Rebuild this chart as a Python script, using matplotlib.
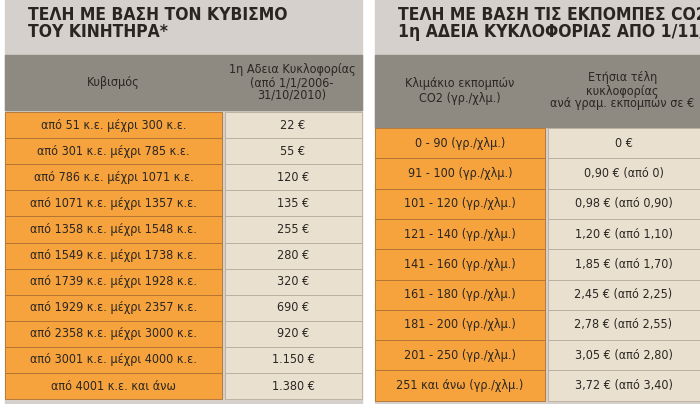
import matplotlib
matplotlib.use("Agg")
import matplotlib.pyplot as plt
from matplotlib.patches import Rectangle

plt.rcParams['font.family'] = ['DejaVu Sans']
plt.rcParams['font.stretch'] = 'condensed'

left_title = "ΤΕΛΗ ΜΕ ΒΑΣΗ ΤΟΝ ΚΥΒΙΣΜΟ\nΤΟΥ ΚΙΝΗΤΗΡΑ*"
left_headers = ["Κυβισμός", "1η Αδεια Κυκλοφορίας\n(από 1/1/2006-\n31/10/2010)"]
left_ranges = ["από 51 κ.ε. μέχρι 300 κ.ε.", "από 301 κ.ε. μέχρι 785 κ.ε.",
               "από 786 κ.ε. μέχρι 1071 κ.ε.", "από 1071 κ.ε. μέχρι 1357 κ.ε.",
               "από 1358 κ.ε. μέχρι 1548 κ.ε.", "από 1549 κ.ε. μέχρι 1738 κ.ε.",
               "από 1739 κ.ε. μέχρι 1928 κ.ε.", "από 1929 κ.ε. μέχρι 2357 κ.ε.",
               "από 2358 κ.ε. μέχρι 3000 κ.ε.", "από 3001 κ.ε. μέχρι 4000 κ.ε.",
               "από 4001 κ.ε. και άνω"]
left_fees = ["22 €", "55 €", "120 €", "135 €", "255 €", "280 €", "320 €",
             "690 €", "920 €", "1.150 €", "1.380 €"]

right_title = "ΤΕΛΗ ΜΕ ΒΑΣΗ ΤΙΣ ΕΚΠΟΜΠΕΣ CO2 -\n1η ΑΔΕΙΑ ΚΥΚΛΟΦΟΡΙΑΣ ΑΠΟ 1/11/2010"
right_headers = ["Κλιμάκιο εκπομπών\nCO2 (γρ./χλμ.)",
                 "Ετήσια τέλη\nκυκλοφορίας\nανά γραμ. εκπομπών σε €"]
right_ranges = ["0 - 90 (γρ./χλμ.)", "91 - 100 (γρ./χλμ.)", "101 - 120 (γρ./χλμ.)",
                "121 - 140 (γρ./χλμ.)", "141 - 160 (γρ./χλμ.)", "161 - 180 (γρ./χλμ.)",
                "181 - 200 (γρ./χλμ.)", "201 - 250 (γρ./χλμ.)", "251 και άνω (γρ./χλμ.)"]
right_fees = ["0 €", "0,90 € (από 0)", "0,98 € (από 0,90)", "1,20 € (από 1,10)",
              "1,85 € (από 1,70)", "2,45 € (από 2,25)", "2,78 € (από 2,55)",
              "3,05 € (από 2,80)", "3,72 € (από 3,40)"]

BG = "#d5d0cb"; HDR = "#8e8981"; OR = "#f6a23d"; BE = "#e9e0d0"; TXT = "#2a2622"

fig = plt.figure(figsize=(7, 4.04), dpi=100)
fig.patch.set_facecolor("white")
ax = fig.add_axes([0, 0, 1, 1])
ax.set_xlim(0, 700); ax.set_ylim(404, 0); ax.axis("off")

def table(x0, x1, xs, title, headers, ranges, fees, hdr_y, hdr_h, row_y0, row_h):
    ax.add_patch(Rectangle((x0, 0), x1 - x0, 404, color=BG, zorder=0))
    ax.text(x0 + 23, 6, title, fontsize=12.5, fontweight="bold", color="#2b2520",
            va="top", ha="left", linespacing=0.95)
    ax.add_patch(Rectangle((x0, hdr_y), x1 - x0, hdr_h, color=HDR, zorder=1))
    ax.text((x0 + xs) / 2, hdr_y + hdr_h / 2, headers[0], fontsize=9, color=TXT,
            ha="center", va="center", zorder=2)
    ax.text((xs + x1) / 2, hdr_y + hdr_h / 2, headers[1], fontsize=9, color=TXT,
            ha="center", va="center", zorder=2, linespacing=1.0)
    for i, (r, f) in enumerate(zip(ranges, fees)):
        y = row_y0 + i * row_h
        ax.add_patch(Rectangle((x0, y), xs - x0, row_h, facecolor=OR,
                               edgecolor="#b07030", lw=0.6, zorder=1))
        ax.add_patch(Rectangle((xs + 3, y), x1 - xs - 3, row_h, facecolor=BE,
                               edgecolor="#b8ad9c", lw=0.6, zorder=1))
        ax.text((x0 + xs) / 2, y + row_h / 2, r, fontsize=9, color=TXT,
                ha="center", va="center", zorder=2)
        ax.text((xs + x1) / 2 + 1, y + row_h / 2, f, fontsize=9, color=TXT,
                ha="center", va="center", zorder=2)

table(5, 362, 222, left_title, left_headers, left_ranges, left_fees,
      55, 55, 112, 26.1)
table(375, 700, 545, right_title, right_headers, right_ranges, right_fees,
      55, 72, 128, 30.3)

fig.savefig("out.png", dpi=100)
